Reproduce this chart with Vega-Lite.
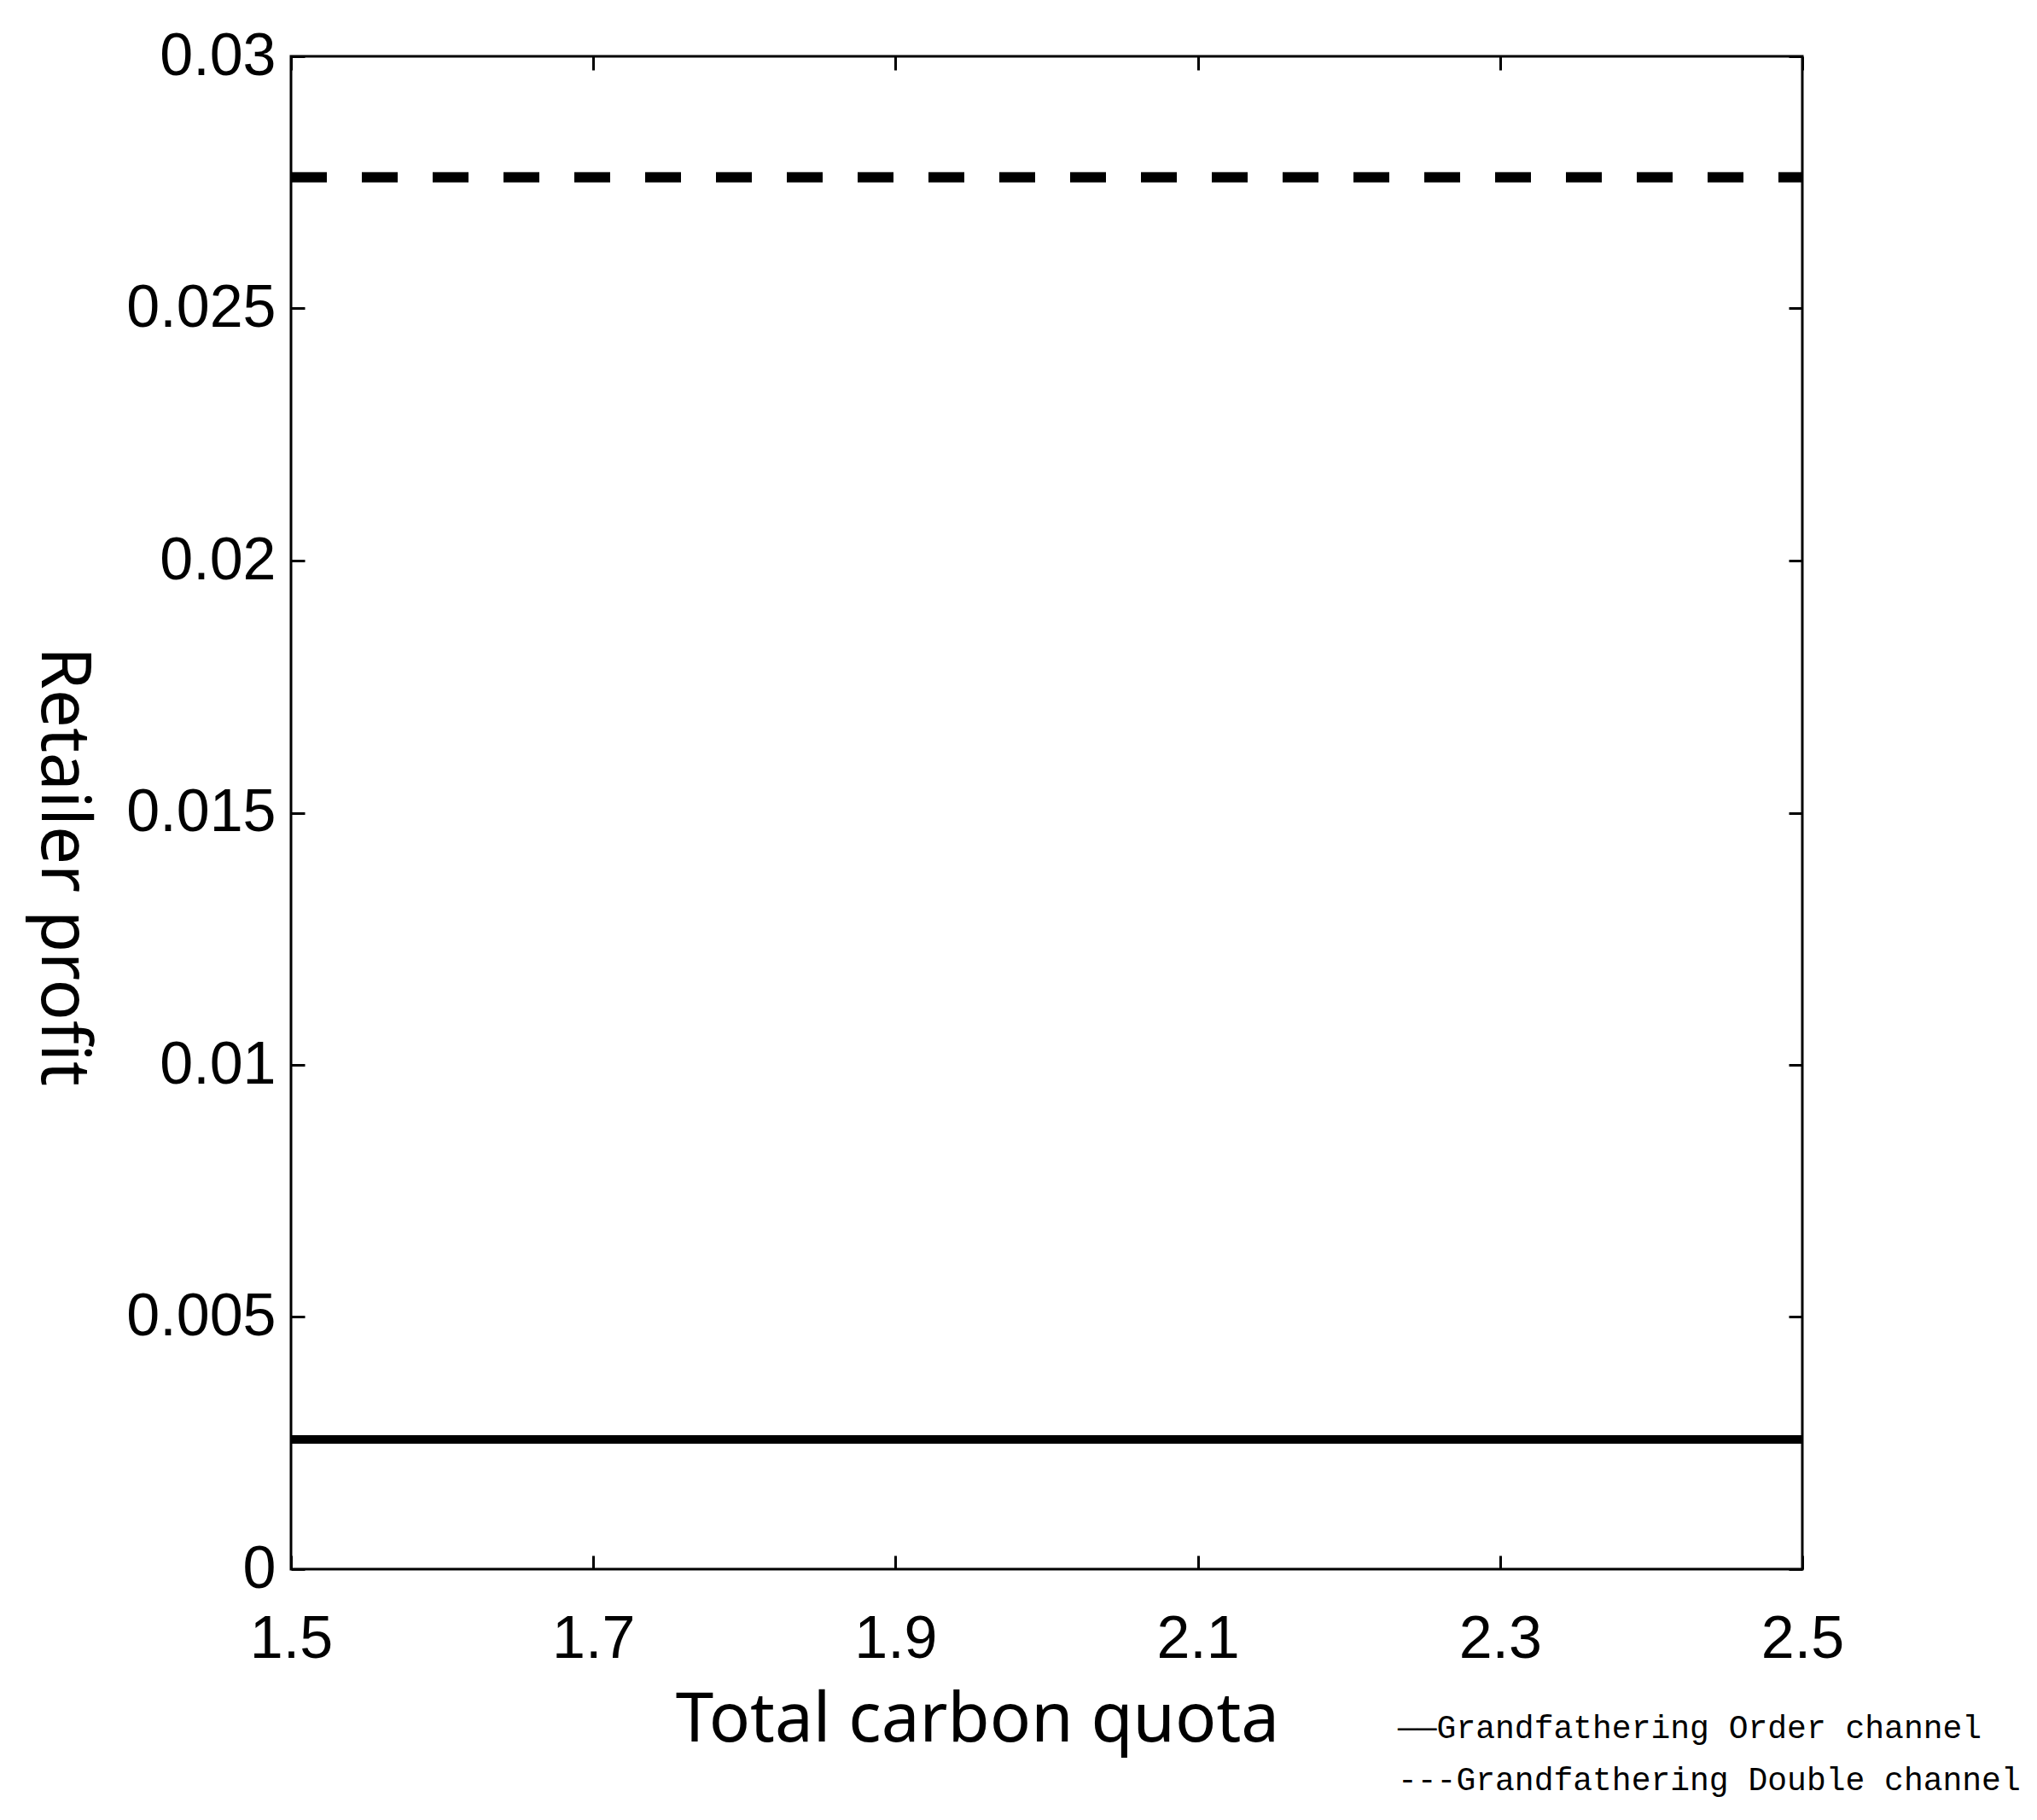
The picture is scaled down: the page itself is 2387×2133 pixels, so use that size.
{
  "$schema": "https://vega.github.io/schema/vega-lite/v6.json",
  "width": 1771,
  "height": 1773,
  "autosize": {"type": "none"},
  "padding": {"left": 341, "top": 66, "right": 275, "bottom": 294},
  "background": "white",
  "data": {
    "values": [
      {"quota": 1.5, "profit": 0.00257, "series": "Grandfathering Order channel"},
      {"quota": 1.7, "profit": 0.00257, "series": "Grandfathering Order channel"},
      {"quota": 1.9, "profit": 0.00257, "series": "Grandfathering Order channel"},
      {"quota": 2.1, "profit": 0.00257, "series": "Grandfathering Order channel"},
      {"quota": 2.3, "profit": 0.00257, "series": "Grandfathering Order channel"},
      {"quota": 2.5, "profit": 0.00257, "series": "Grandfathering Order channel"},
      {"quota": 1.5, "profit": 0.0276, "series": "Grandfathering Double channel"},
      {"quota": 1.7, "profit": 0.0276, "series": "Grandfathering Double channel"},
      {"quota": 1.9, "profit": 0.0276, "series": "Grandfathering Double channel"},
      {"quota": 2.1, "profit": 0.0276, "series": "Grandfathering Double channel"},
      {"quota": 2.3, "profit": 0.0276, "series": "Grandfathering Double channel"},
      {"quota": 2.5, "profit": 0.0276, "series": "Grandfathering Double channel"}
    ]
  },
  "layer": [
    {
      "transform": [{"filter": "datum.series == 'Grandfathering Order channel'"}],
      "mark": {"type": "line", "color": "black", "strokeWidth": 10},
      "encoding": {
        "x": {
          "field": "quota", "type": "quantitative",
          "scale": {"domain": [1.5, 2.5], "nice": false, "zero": false},
          "axis": {
            "orient": "bottom",
            "values": [1.5, 1.7, 1.9, 2.1, 2.3, 2.5],
            "format": ".1f",
            "labelFont": "Liberation Sans", "labelFontSize": 70, "labelColor": "black",
            "labelPadding": 64, "labelFlush": false, "labelOverlap": false, "labelBound": false,
            "tickSize": -16, "tickWidth": 3, "tickColor": "black",
            "domain": false, "grid": false,
            "title": "Total carbon quota",
            "titleFont": "Noto Sans", "titleFontSize": 80, "titleFontWeight": "normal", "titleColor": "black",
            "titleX": 804, "titleY": 201, "titleBaseline": "alphabetic", "titleAlign": "center"
          }
        },
        "y": {
          "field": "profit", "type": "quantitative",
          "scale": {"domain": [0, 0.03], "nice": false, "zero": false},
          "axis": {
            "orient": "left",
            "values": [0, 0.005, 0.01, 0.015, 0.02, 0.025, 0.03],
            "format": "~g",
            "labelFont": "Liberation Sans", "labelFontSize": 70, "labelColor": "black",
            "labelPadding": 34, "labelOverlap": false, "labelBound": false, "labelFlush": false,
            "tickSize": -16, "tickWidth": 3, "tickColor": "black",
            "domain": false, "grid": false,
            "title": "Retailer profit",
            "titleFont": "Noto Sans", "titleFontSize": 80, "titleFontWeight": "normal", "titleColor": "black",
            "titleAngle": 90, "titleX": -293, "titleY": 949, "titleBaseline": "alphabetic", "titleAlign": "center"
          }
        },
        "strokeDash": {
          "field": "series", "type": "nominal",
          "scale": {
            "domain": ["Grandfathering Order channel", "Grandfathering Double channel"],
            "range": [[1, 0], [42, 41]]
          },
          "legend": {
            "orient": "none", "legendX": 1259, "legendY": 1941,
            "title": null, "padding": 0,
            "symbolOpacity": 0, "symbolSize": 1, "symbolStrokeWidth": 0,
            "labelOffset": 0,
            "labelFont": "Liberation Mono", "labelFontSize": 38, "labelColor": "black",
            "labelLimit": 1000, "rowPadding": 23,
            "labelExpr": "(datum.value == 'Grandfathering Order channel' ? '——' : '---') + datum.label"
          }
        }
      }
    },
    {
      "transform": [{"filter": "datum.series == 'Grandfathering Double channel'"}],
      "mark": {"type": "line", "color": "black", "strokeWidth": 12},
      "encoding": {
        "x": {"field": "quota", "type": "quantitative", "axis": null},
        "y": {"field": "profit", "type": "quantitative", "axis": null},
        "strokeDash": {"field": "series", "type": "nominal"}
      }
    },
    {
      "mark": {"type": "line", "opacity": 0},
      "encoding": {
        "x": {
          "field": "quota", "type": "quantitative",
          "axis": {
            "orient": "top", "values": [1.5, 1.7, 1.9, 2.1, 2.3, 2.5],
            "labels": false, "title": null, "domain": false, "grid": false,
            "tickSize": -16, "tickWidth": 3, "tickColor": "black"
          }
        },
        "y": {
          "field": "profit", "type": "quantitative",
          "axis": {
            "orient": "right", "values": [0, 0.005, 0.01, 0.015, 0.02, 0.025, 0.03],
            "labels": false, "title": null, "domain": false, "grid": false,
            "tickSize": -16, "tickWidth": 3, "tickColor": "black"
          }
        },
        "detail": {"field": "series", "type": "nominal"}
      }
    }
  ],
  "resolve": {"axis": {"x": "independent", "y": "independent"}},
  "config": {
    "view": {"stroke": "black", "strokeWidth": 3}
  }
}
